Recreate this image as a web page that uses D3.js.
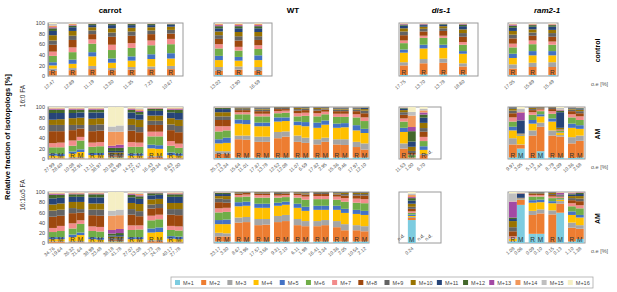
<!DOCTYPE html>
<html lang="en">
<head>
<meta charset="UTF-8"/>
<title>Isotopolog fractions</title>
<script src="https://d3js.org/d3.v7.min.js"></script>
<style>
  body { margin: 0; background: #fff; }
  text { font-family: "Liberation Sans", Arial, sans-serif; }
</style>
</head>
<body>
<script>

// isotopologs, bottom to top of each stack
var isotopologs = ["M+1","M+2","M+3","M+4","M+5","M+6","M+7","M+8",
                   "M+9","M+10","M+11","M+12","M+13","M+14","M+15","M+16"];
var colors = ["#7dcce0","#ed7d31","#a5a5a5","#ffc000","#4472c4","#70ad47","#f28b8b","#9e480e",
              "#636363","#997300","#264478","#43682b","#a349a4","#f1975a","#bfbfbf","#f5efc4"];

// ---- 16:0 FA, control (R only) ----
var carrotCtrlOE = ["12.47","12.89","11.19","13.30","11.35","7.23","10.67"];
var carrotCtrl = [
  [1,9,4,6,6,12,8,13,8,10,8,5,2,3,3,2],
  [1,10,4,8,8,14,9,14,8,9,7,3,1,2,1,1],
  [1,12,6,18,8,16,8,10,7,6,4,2,0.5,0.5,0.5,0.5],
  [1,10,4,10,8,16,10,15,8,8,6,2,0.5,0.5,0.5,0.5],
  [1,11,5,12,8,16,9,14,8,7,5,2,0.5,0.5,0.5,0.5],
  [1,12,5,14,9,17,9,12,7,6,4,2,0.5,0.5,0.5,0.5],
  [1,12,6,14,10,17,10,10,7,6,4,1,0.5,0.5,0.5,0.5]
];
var wtCtrlOE = ["13.02","12.90","16.59"];
var wtCtrl = [
  [2,8,7,13,8,14,8,10,7,7,6,4,2,2,1,1],
  [2,10,6,11,7,12,7,12,8,8,7,4,2,2,1,1],
  [2,8,7,13,9,12,7,10,7,8,7,4,2,2,1,1]
];
var disCtrlOE = ["17.75","13.70","13.78","18.80"];
var disCtrl = [
  [2,18,6,18,6,12,5,10,7,6,5,2,1,1,0.5,0.5],
  [3,21,8,20,7,13,4,8,5,4,3,1,1,1,0.5,0.5],
  [3,22,8,20,6,13,4,9,5,4,3,1,0.5,0.5,0.5,0.5],
  [3,15,6,18,5,12,5,10,7,7,6,3,1,1,0.5,0.5]
];
var ramCtrlOE = ["17.05","15.89","15.49"];
var ramCtrl = [
  [2,12,8,12,8,12,7,10,7,7,6,4,2,1,1,1],
  [2,15,8,14,8,13,7,9,6,6,5,3,1,1,1,1],
  [2,15,9,13,8,12,6,9,7,6,6,3,1,1,1,1]
];

// ---- 16:0 FA, AM (R, M pairs) ----
var carrotAM16OE = ["27.99","28.60","10.08","32.91","12.11","38.97","20.38","63.99","14.22","27.57","16.43","29.34","8.63","37.00"];
var carrotAM16 = [
  [0.5,1,1,4,4,12,8,23,12,10,13,6,1.5,1.5,1,1.5],
  [0.5,1,1,3,4,13,9,22,12,11,12,6,1.5,1.5,1,1.5],
  [0.5,1,2,7,4,11,10,20,10,13,10,6,1.5,1.5,1,1.5],
  [0.5,1,2,10,5,17,7,16,7,14,10,5,1.5,1.5,1,1.5],
  [0.5,1,1,5,4,12,8,22,12,12,12,5,1.5,1.5,1,1.5],
  [0.5,1,1,5,4,13,8,22,12,12,11,5,1.5,1.5,1,1.5],
  [0.5,0.5,0.5,0.5,0.5,1,1,2,3,3,3,6,4,27,10,37.5],
  [0.5,0.5,0.5,0.5,0.5,1,1,2,3,3,3,6,6,25,12,35.5],
  [0.5,1,1,4,4,13,9,22,11,12,12,5,1.5,1.5,1,1.5],
  [0.5,1,1,4,4,13,8,20,10,14,10,5,2,3,2,2.5],
  [0.5,3,2,15,7,16,9,13,8,10,9,4,1,1,0.5,1],
  [0.5,3,2,14,7,17,9,13,8,10,9,4,1,1,0.5,1],
  [0.5,1,1,5,5,13,9,21,11,12,11,5,1.5,1.5,1,1.5],
  [0.5,1,1,4,4,11,8,22,12,12,13,6,1.5,1.5,1,1.5]
];
var wtAM16OE = ["25.73","13.34","15.64","11.01","17.87","13.78","12.52","12.08","11.07","6.59","17.82","2.95","15.36","9.46","17.97","12.10"];
var wtAM16 = [
  [2,8,5,15,8,15,10,12,7,8,6,2,0.5,0.5,0.5,0.5],
  [2,8,5,16,10,14,8,12,7,8,6,2,0.5,0.5,0.5,0.5],
  [3,35,7,23,8,10,4,4,2,1.5,1,0.5,0.25,0.25,0.25,0.25],
  [3,34,8,22,8,11,4,4,2,1.5,1,0.5,0.25,0.25,0.25,0.25],
  [3,30,10,20,7,12,5,5,3,2,1.5,0.5,0.25,0.25,0.25,0.25],
  [3,30,10,20,7,12,5,5,3,2,1.5,0.5,0.25,0.25,0.25,0.25],
  [3,37,12,20,8,8,4,4,2,1,0.5,0.2,0.1,0.1,0.05,0.05],
  [3,40,10,20,7,9,4,3,2,1,0.5,0.2,0.1,0.1,0.05,0.05],
  [3,30,12,20,7,10,6,5,3,2,1,0.4,0.2,0.2,0.1,0.1],
  [3,28,10,22,8,12,6,5,3,1.5,1,0.3,0.05,0.05,0.05,0.05],
  [3,25,10,22,10,12,6,5,3,2,1,0.4,0.2,0.2,0.1,0.1],
  [3,30,8,25,8,12,5,4,2,1.5,1,0.2,0.1,0.1,0.05,0.05],
  [3,25,10,22,8,13,6,5,3,2,1.5,0.5,0.25,0.25,0.25,0.25],
  [3,24,11,23,8,12,6,5,3,2,1.5,0.5,0.25,0.25,0.25,0.25],
  [3,20,10,22,10,15,6,6,3,2,1.5,0.5,0.25,0.25,0.25,0.25],
  [3,15,12,20,8,15,7,8,5,3,2,1,0.25,0.25,0.25,0.25]
];
var disAM16OE = ["11.53","1.00","6.70","n.d."];
var disAM16 = [
  [1,19,10,22,8,12,6,7,5,4,3,1,0.5,0.5,0.5,0.5],
  [0.5,1,0.5,1,0.5,4,1,3,4,8,10,20,8,22,7,9.5],
  [0.5,7,2,8,7,10,8,10,7,10,10,6,4,4,3,3.5],
  null
];
var ramAM16OE = ["9.97","3.05","5.13","2.44","8.79","3.09","10.36","2.58"];
var ramAM16 = [
  [3,25,12,15,7,10,8,8,5,4,2,0.5,0.1,0.2,0.1,0.1],
  [20,7,1,17,1,1,0.5,0.5,0.5,0.5,25,0.5,15,1,6,3.5],
  [2,43,10,13,7,10,5,4,2,2,1,0.4,0.2,0.2,0.1,0.1],
  [15,47,8,12,4,6,3,2,1,1,0.5,0.2,0.1,0.1,0.05,0.05],
  [3,42,10,17,6,9,5,4,2,1,0.5,0.2,0.1,0.1,0.05,0.05],
  [3,40,3,5,1,2,1,1,1,3,30,3,1,1,3,2],
  [2,28,12,18,8,12,6,6,3,2,1.5,0.5,0.25,0.25,0.25,0.25],
  [3,32,10,13,7,10,7,6,4,3,2,1,0.5,0.5,0.5,0.5]
];

// ---- 16:1w5 FA, AM (R, M pairs) ----
var carrotAM161OE = ["34.76","19.64","26.32","21.64","38.99","23.48","38.18","41.78","27.07","13.08","31.73","24.78","40.17","27.78"];
var carrotAM161 = [
  [0.5,2,1,4,4,10,8,22,12,12,12,7,1.5,1.5,1,1.5],
  [0.5,2,1,4,4,12,10,20,12,12,11,6,1.5,1.5,1,1.5],
  [0.5,1,2,8,5,12,10,20,10,12,10,5,1.5,1.5,1,0.5],
  [0.5,1,2,12,5,17,7,15,7,14,10,5,1.5,1.5,0.5,1],
  [0.5,1,1,5,4,12,9,22,11,12,12,6,1.5,1.5,0.5,1],
  [0.5,1,1,4,4,12,9,22,12,12,12,6,1.5,1.5,0.5,1],
  [0.5,0.5,0.5,0.5,0.5,1,1,2,3,3,2,4,7,28,10,36.5],
  [0.5,0.5,0.5,0.5,0.5,1,1,2,3,3,3,4,8,27,11,34.5],
  [0.5,1,1,5,4,14,9,21,11,12,11,5,1.5,1.5,1,1.5],
  [0.5,1,1,5,4,15,8,18,10,14,10,5,2,3,2,1.5],
  [0.5,3,2,15,8,16,9,14,8,10,8,4,1,0.5,0.5,0.5],
  [0.5,3,2,16,9,16,9,13,8,10,8,3,1,0.5,0.5,0.5],
  [0.5,1,1,6,5,12,8,22,11,12,12,5,1.5,1.5,0.5,1],
  [0.5,1,1,5,5,12,8,22,12,12,12,5,1.5,1.5,0.5,1]
];
var wtAM161OE = ["23.17","3.30","8.67","3.96","17.57","3.56","9.31","2.10","6.11","1.98","16.41","3.34","10.36","2.05","10.54","2.12"];
var wtAM161 = [
  [3,10,7,17,8,15,8,12,7,5,4,2,0.5,0.5,0.5,0.5],
  [3,10,6,18,9,15,8,10,7,6,4,2,0.5,0.5,0.5,0.5],
  [3,37,10,22,8,10,4,3,1.5,1,0.3,0.1,0.05,0.05,0,0],
  [3,38,10,22,8,10,4,3,1,0.5,0.3,0.1,0.05,0.05,0,0],
  [3,32,12,22,8,12,5,3,1.5,1,0.3,0.1,0.05,0.05,0,0],
  [3,33,11,22,8,12,5,3,1.5,1,0.3,0.1,0.05,0.05,0,0],
  [3,38,12,20,6,10,4,3,2,1,0.5,0.3,0.1,0.1,0,0],
  [3,40,12,20,6,9,4,3,1.5,0.8,0.4,0.2,0.05,0.05,0,0],
  [3,32,12,22,8,12,5,3,1.5,1,0.3,0.1,0.05,0.05,0,0],
  [3,30,10,20,8,14,6,4,2,1.5,1,0.3,0.1,0.1,0,0],
  [3,30,10,22,8,13,6,4,2,1,0.5,0.3,0.1,0.1,0,0],
  [3,32,10,20,8,13,6,4,2,1,0.5,0.3,0.1,0.1,0,0],
  [3,28,12,22,8,12,6,4,2,1.5,1,0.3,0.1,0.1,0,0],
  [3,22,12,22,8,14,7,5,3,2,1,0.5,0.2,0.2,0.05,0.05],
  [3,22,10,22,8,14,8,6,3,2,1,0.5,0.2,0.2,0.05,0.05],
  [3,20,10,22,8,15,8,7,3,2,1,0.5,0.2,0.2,0.05,0.05]
];
var disAM161OE = ["n.d.","0.24","n.d.","n.d."];
var disAM161 = [
  null,
  [45,4,2,2,3,3,3,5,4,6,6,5,2,4,3,3],
  null,
  null
];
var ramAM161OE = ["1.08","0.06","0.09","0.10","0.15","0.13","1.10","1.38"];
var ramAM161 = [
  [3,0.5,0.5,4,0.5,0.5,4,10,8,12,4,3,31,0.5,16,2.5],
  [75.5,10,0.5,0.5,0.5,0.5,0.5,0.5,0.5,0.5,8,0.5,0.5,0.5,1,1],
  [18,37,8,16,5,7,3,2,1,1,1,0.5,0.2,0.2,0.05,0.05],
  [18,40,8,14,5,6,3,2,1.5,1,0.8,0.4,0.1,0.1,0.05,0.05],
  [1,55,8,14,4,6,3,3,2,2,1,0.5,0.2,0.2,0.05,0.05],
  [60,18,5,3,1,2,2,1,1,1,1,1,3,1,0.5,0.5],
  [3,27,10,15,7,10,6,6,4,4,3,2,1,1,0.5,0.5],
  [8,20,7,15,5,13,6,8,5,5,4,2,1,0.5,0.25,0.25]
];

// ---------------- layout ----------------
var w = 617, h = 292;
var step = 19.67;

var cols = [
  {title: "carrot", italic: false, left: 48,  cx: 110},
  {title: "WT",     italic: false, left: 214, cx: 293},
  {title: "dis-1",  italic: true,  left: 399, cx: 441},
  {title: "ram2-1", italic: true,  left: 508, cx: 547}
];
var rows = [
  {top: 23,  bottom: 76,  side: "control", paired: false, widths: [135, 58, 79, 50],
   sets: [[carrotCtrl, carrotCtrlOE], [wtCtrl, wtCtrlOE], [disCtrl, disCtrlOE], [ramCtrl, ramCtrlOE]]},
  {top: 107, bottom: 159, side: "AM", paired: true, widths: [135, 155, 42, 77],
   sets: [[carrotAM16, carrotAM16OE], [wtAM16, wtAM16OE], [disAM16, disAM16OE], [ramAM16, ramAM16OE]]},
  {top: 192, bottom: 243, side: "AM", paired: true, widths: [135, 155, 42, 77],
   sets: [[carrotAM161, carrotAM161OE], [wtAM161, wtAM161OE], [disAM161, disAM161OE], [ramAM161, ramAM161OE]]}
];

var color = d3.scaleOrdinal().domain(d3.range(16)).range(colors);
var stack = d3.stack().keys(d3.range(16)).offset(d3.stackOffsetExpand);

var svg = d3.select("body").append("svg")
    .attr("width", w)
    .attr("height", h);

// column titles
svg.selectAll(".coltitle")
    .data(cols)
    .enter()
    .append("text")
    .attr("x", function(d) { return d.cx; })
    .attr("y", 13)
    .attr("text-anchor", "middle")
    .attr("font-size", 8)
    .attr("font-weight", "bold")
    .attr("font-style", function(d) { return d.italic ? "italic" : "normal"; })
    .text(function(d) { return d.title; });

rows.forEach(function(row, ri) {
    var yScale = d3.scaleLinear().domain([0, 1]).range([row.bottom, row.top]);

    cols.forEach(function(col, ci) {
        var vals = row.sets[ci][0];
        var oe = row.sets[ci][1];
        var nSlots = row.paired ? vals.length / 2 : vals.length;

        var xSlot = d3.scaleBand()
            .domain(d3.range(nSlots))
            .range([col.left + 1, col.left + 1 + step * (nSlots - 0.2)])
            .paddingInner(0.2);
        var xSub = d3.scaleBand()
            .domain(["R", "M"])
            .range([0, xSlot.bandwidth()]);

        var bars = vals.map(function(v, i) {
            var slot = row.paired ? Math.floor(i / 2) : i;
            var kind = row.paired ? (i % 2 === 0 ? "R" : "M") : "R";
            return {v: v, oe: oe[i], x: xSlot(slot) + xSub(kind), kind: kind};
        });
        var bw = xSub.bandwidth();

        var g = svg.append("g");

        // frame
        g.append("rect")
            .attr("x", col.left)
            .attr("y", row.top)
            .attr("width", row.widths[ci])
            .attr("height", row.bottom - row.top)
            .attr("fill", "none")
            .attr("stroke", "#9a9a9a")
            .attr("stroke-width", 1);

        var present = bars.filter(function(b) { return b.v !== null; });
        var series = stack(present.map(function(b) { return b.v; }));

        g.selectAll(".layer")
            .data(series)
            .enter()
            .append("g")
            .attr("fill", function(d) { return color(d.key); })
            .selectAll("rect")
            .data(function(d) { return d; })
            .enter()
            .append("rect")
            .attr("x", function(d, i) { return present[i].x; })
            .attr("width", bw)
            .attr("y", function(d) { return yScale(d[1]); })
            .attr("height", function(d) { return Math.max(0, yScale(d[0]) - yScale(d[1])); });

        // R / M letters
        g.selectAll(".letter")
            .data(present)
            .enter()
            .append("text")
            .attr("x", function(d) { return d.x + bw / 2; })
            .attr("y", row.bottom - 0.8)
            .attr("text-anchor", "middle")
            .attr("font-size", 6.5)
            .attr("fill", "#333")
            .text(function(d) { return d.kind; });

        // o.e. tick labels
        g.selectAll(".oe")
            .data(present)
            .enter()
            .append("text")
            .attr("transform", function(d) {
                return "translate(" + (d.x + bw / 2 + 2) + "," + (row.bottom + 6) + ") rotate(-40)";
            })
            .attr("text-anchor", "end")
            .attr("font-size", 4.8)
            .attr("fill", "#555")
            .text(function(d) { return d.oe; });

        // n.d. marks inside the frame
        g.selectAll(".nd")
            .data(bars.filter(function(b) { return b.v === null; }))
            .enter()
            .append("text")
            .attr("transform", function(d) {
                return "translate(" + (d.x - 1) + "," + (row.bottom - 2) + ") rotate(-40)";
            })
            .attr("font-size", 4.8)
            .attr("fill", "#444")
            .text("n.d.");

        // y axis on the carrot panels
        if (ci === 0) {
            var yAxis = d3.axisLeft(d3.scaleLinear().domain([0, 100]).range([row.bottom, row.top]))
                .tickValues([0, 20, 40, 60, 80, 100])
                .tickSize(0)
                .tickPadding(3);
            var ax = svg.append("g")
                .attr("transform", "translate(" + col.left + ",0)")
                .call(yAxis);
            ax.select(".domain").attr("stroke", "#9a9a9a");
            ax.selectAll("text")
                .attr("font-size", 5.5)
                .attr("fill", "#444")
                .style("font-family", "Liberation Sans, Arial, sans-serif");
        }
    });

    // right-hand labels
    svg.append("text")
        .attr("transform", "translate(600," + ((row.top + row.bottom) / 2 + 1) + ") rotate(-90)")
        .attr("text-anchor", "middle")
        .attr("font-size", 7)
        .attr("font-weight", "bold")
        .text(row.side);

    svg.append("text")
        .attr("x", 591)
        .attr("y", row.bottom + 10)
        .attr("font-size", 5.5)
        .attr("fill", "#555")
        .text("o.e [%]");
});

// left labels
svg.append("text")
    .attr("transform", "translate(10,137) rotate(-90)")
    .attr("text-anchor", "middle")
    .attr("font-size", 7.5)
    .attr("font-weight", "bold")
    .text("Relative fraction of isotopologs [%]");

svg.append("text")
    .attr("transform", "translate(25,96) rotate(-90)")
    .attr("text-anchor", "middle")
    .attr("font-size", 6.5)
    .attr("fill", "#333")
    .text("16:0 FA");

svg.append("text")
    .attr("transform", "translate(25,195) rotate(-90)")
    .attr("text-anchor", "middle")
    .attr("font-size", 6.5)
    .attr("fill", "#333")
    .text("16:1ω5 FA");

// legend
var legend = svg.append("g");
legend.append("rect")
    .attr("x", 171)
    .attr("y", 277)
    .attr("width", 422)
    .attr("height", 11)
    .attr("fill", "#fff")
    .attr("stroke", "#aaa")
    .attr("stroke-width", 0.8);

var xLegend = d3.scaleBand().domain(isotopologs).range([175, 594]);

var item = legend.selectAll(".item")
    .data(isotopologs)
    .enter()
    .append("g")
    .attr("transform", function(d) { return "translate(" + xLegend(d) + ",280)"; });

item.append("rect")
    .attr("width", 5)
    .attr("height", 5)
    .attr("fill", function(d, i) { return colors[i]; });

item.append("text")
    .attr("x", 8)
    .attr("y", 4.6)
    .attr("font-size", 5.5)
    .attr("fill", "#444")
    .text(function(d) { return d; });

</script>
</body>
</html>
